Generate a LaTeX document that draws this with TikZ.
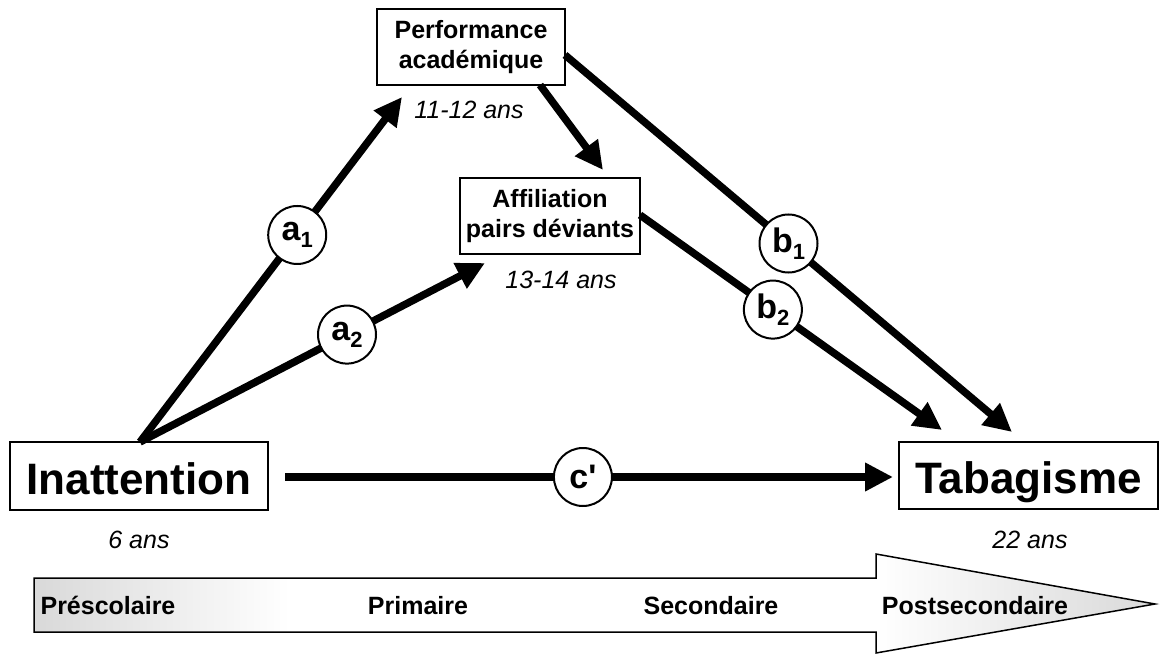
\documentclass[tikz,border=0pt]{standalone}
\usepackage{fontspec}
\setmainfont{Liberation Sans}
\usetikzlibrary{arrows.meta}
\tikzset{
  box/.style={draw=black, line width=1.5pt, fill=white, inner sep=0pt, align=center, font=\fontsize{25}{30}\selectfont\bfseries},
  bigbox/.style={draw=black, line width=1.5pt, fill=white, inner sep=0pt, text height=36pt, text depth=0pt, font=\fontsize{44}{50}\selectfont\bfseries},
  age/.style={font=\fontsize{25}{30}\selectfont\itshape},
  arr/.style={line width=7.5pt, -{Triangle[length=28pt,width=27pt]}},
  circ/.style={circle, draw=black, line width=2pt, fill=white, minimum size=58pt, inner sep=0pt, font=\fontsize{34}{34}\selectfont\bfseries},
  tl/.style={text height=18pt, text depth=0pt, font=\fontsize{25}{30}\selectfont\bfseries},
}
\newcommand{\sbs}[1]{{\fontsize{22}{22}\selectfont\raisebox{-7pt}{#1}}}
\begin{document}
\begin{tikzpicture}[x=1pt,y=-1pt]
\useasboundingbox (0,0) rectangle (1160,655);

% timeline arrow
\shade[left color=gray!30, right color=white, draw=none]
  (34,578) rectangle (290,632);
\shade[left color=white, right color=gray!30, draw=none]
  (876,554) -- (1155,604) -- (876,653) -- cycle;
\draw[line width=1.5pt] (34,578) -- (876,578) -- (876,554) -- (1155,604) -- (876,653) -- (876,632) -- (34,632) -- cycle;
\node[tl] (pres) at (108,605) {Préscolaire};
\node[tl] (prim) at (418,605) {Primaire};
\node[tl] (seco) at (711,605) {Secondaire};
\node[tl] (post) at (975,605) {Postsecondaire};

% boxes
\node[bigbox, minimum width=258pt, minimum height=68pt] (inat) at (139,476) {Inattention};
\node[bigbox, minimum width=259pt, minimum height=67pt] (taba) at (1028.5,475.5) {Tabagisme};
\node[box, minimum width=188pt, minimum height=76pt] (perf) at (471,47) {Performance\\académique};
\node[box, minimum width=180pt, minimum height=76pt] (affi) at (550,216) {Affiliation\\pairs déviants};

% ages
\node[age] (age6) at (139,540) {6 ans};
\node[age] (age22) at (1030,540) {22 ans};
\node[age] (age11) at (469,110) {11-12 ans};
\node[age] (age13) at (561,280) {13-14 ans};

% coordinates
\coordinate (a1s) at (140,442);
\coordinate (a1t) at (402,97);
\coordinate (a2t) at (485,263);
\coordinate (pas) at (540,85);
\coordinate (pat) at (603,170);
\coordinate (b1s) at (565,55);
\coordinate (b1t) at (1012,432);
\coordinate (b2s) at (640,215);
\coordinate (b2t) at (942,430);
\coordinate (cs) at (285,477);
\coordinate (ct) at (893,477);

% arrows
\draw[arr] (a1s) -- node[circ, pos=0.6] (ca1) {a\sbs{1}} (a1t);
\draw[arr] (a1s) -- node[circ, pos=0.6] (ca2) {a\sbs{2}} (a2t);
\draw[arr] (pas) -- (pat);
\draw[arr] (b1s) -- node[circ, pos=0.5] (cb1) {b\sbs{1}} (b1t);
\draw[arr] (b2s) -- node[circ, pos=0.44] (cb2) {b\sbs{2}} (b2t);
\draw[arr] (cs) -- node[circ, pos=0.49] (cc) {c\textquotesingle} (ct);
\end{tikzpicture}
\end{document}
